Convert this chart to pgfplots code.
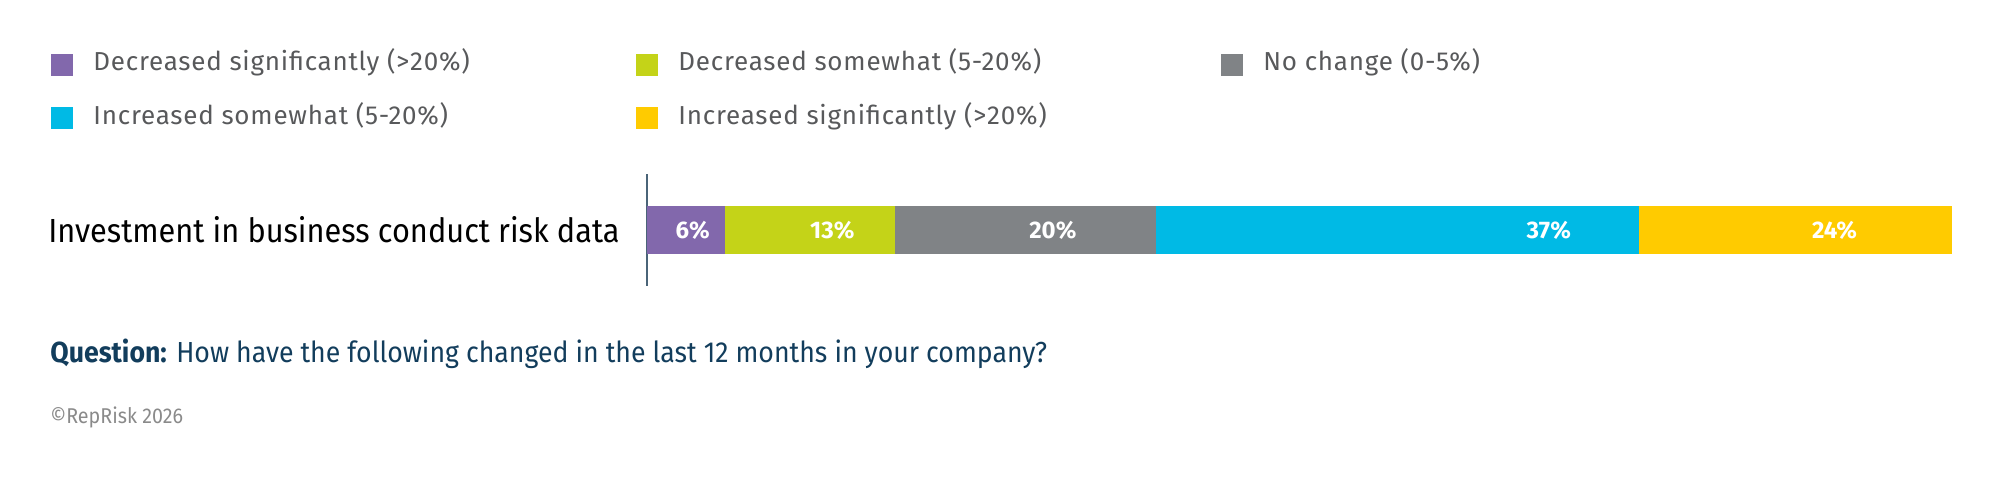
\documentclass[border=0pt]{standalone}
\usepackage{fontspec}
\setmainfont{Fira Sans}
\newfontfamily\condfont[FakeStretch=0.92]{Fira Sans}
\newfontfamily\legfont[LetterSpace=3]{Fira Sans}
\usepackage{pgfplots}
\pgfplotsset{compat=1.18}
\definecolor{cPurple}{HTML}{8268AC}
\definecolor{cLime}{HTML}{C4D318}
\definecolor{cGray}{HTML}{808386}
\definecolor{cCyan}{HTML}{00BAE5}
\definecolor{cYellow}{HTML}{FFCB00}
\definecolor{cText}{HTML}{58595B}
\definecolor{cNavy}{HTML}{123D5C}
\definecolor{cAxis}{HTML}{4A6478}
\definecolor{cCopy}{HTML}{8A8A8A}
\pgfplotsset{vallab/.style={nodes near coords, point meta=explicit symbolic,
  nodes near coords align=center,
  every node near coord/.append style={font=\bfseries\fontsize{12bp}{14bp}\selectfont, text=white, inner sep=0pt, anchor=center, xshift=#1}}}
\begin{document}
\begin{tikzpicture}
\path[use as bounding box] (0,0) rectangle (1000bp,241bp);
\begin{axis}[
  at={(323.5bp,98bp)}, anchor=south west,
  scale only axis, width=652.5bp, height=56bp,
  xbar stacked, bar width=24.25bp,
  xmin=0, xmax=100, ymin=-1, ymax=1,
  axis x line=none, axis y line*=left,
  axis line style={cAxis, line width=0.8bp},
  ytick={0}, yticklabels={Investment in business conduct risk data},
  major tick length=0pt,
  yticklabel style={font=\condfont\fontsize{16.7bp}{19bp}\selectfont, text=black, inner sep=0pt, xshift=-13.5bp, anchor=east},
  xtick=\empty,
  legend columns=3,
  legend style={draw=none, fill=none, at={(-0.4567,2.085)}, anchor=north west,
    inner sep=0pt, row sep=14.6bp, font=\legfont\fontsize{13bp}{15bp}\selectfont, text=cText,
    nodes={inner sep=0pt, text height=9bp, text depth=3bp}},
  legend cell align=left,
  legend image code/.code={\fill[#1] (0bp,-5.4bp) rectangle (10.8bp,5.4bp); \path (21bp,0bp);},
  clip=false,
]
\addplot[fill=cPurple, draw=none, vallab=3.3bp] coordinates {(6,0) [6\%]};
\addlegendentry{\makebox[271.5bp][l]{Decreased significantly (>20\%)}}
\addplot[fill=cLime, draw=none, vallab=11.1bp] coordinates {(13,0) [13\%]};
\addlegendentry{\makebox[271.5bp][l]{Decreased somewhat (5-20\%)}}
\addplot[fill=cGray, draw=none, vallab=13.7bp] coordinates {(20,0) [20\%]};
\addlegendentry{\makebox[271.5bp][l]{No change (0-5\%)}}
\addplot[fill=cCyan, draw=none, vallab=75.7bp] coordinates {(37,0) [37\%]};
\addlegendentry{\makebox[271.5bp][l]{Increased somewhat (5-20\%)}}
\addplot[fill=cYellow, draw=none, vallab=19.6bp] coordinates {(24,0) [24\%]};
\addlegendentry{\makebox[271.5bp][l]{Increased significantly (>20\%)}}
\end{axis}
\node[anchor=base west, inner sep=0pt, text=cNavy, font=\condfont\fontsize{14.5bp}{17bp}\selectfont] at (25bp,59.5bp) {\textbf{Question:} How have the following changed in the last 12 months in your company?};
\node[anchor=base west, inner sep=0pt, text=cCopy, font=\condfont\fontsize{10.7bp}{12bp}\selectfont] at (25bp,29.5bp) {©RepRisk 2026};
\end{tikzpicture}
\end{document}
